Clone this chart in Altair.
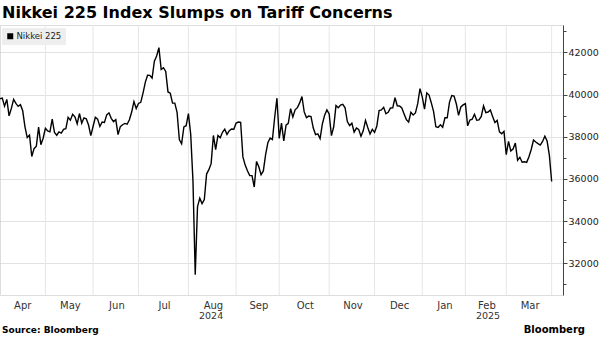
import altair as alt
import pandas as pd

# Trading days (Tokyo) Apr 2024 - Mar 2025 and Nikkei 225 closes
dates = [
    # Apr 2024
    "2024-04-01", "2024-04-02", "2024-04-03", "2024-04-04", "2024-04-05",
    "2024-04-08", "2024-04-09", "2024-04-10", "2024-04-11", "2024-04-12",
    "2024-04-15", "2024-04-16", "2024-04-17", "2024-04-18", "2024-04-19",
    "2024-04-22", "2024-04-23", "2024-04-24", "2024-04-25", "2024-04-26",
    "2024-04-30",
    # May 2024
    "2024-05-01", "2024-05-02", "2024-05-07", "2024-05-08", "2024-05-09",
    "2024-05-10", "2024-05-13", "2024-05-14", "2024-05-15", "2024-05-16",
    "2024-05-17", "2024-05-20", "2024-05-21", "2024-05-22", "2024-05-23",
    "2024-05-24", "2024-05-27", "2024-05-28", "2024-05-29", "2024-05-30",
    "2024-05-31",
    # Jun 2024
    "2024-06-03", "2024-06-04", "2024-06-05", "2024-06-06", "2024-06-07",
    "2024-06-10", "2024-06-11", "2024-06-12", "2024-06-13", "2024-06-14",
    "2024-06-17", "2024-06-18", "2024-06-19", "2024-06-20", "2024-06-21",
    "2024-06-24", "2024-06-25", "2024-06-26", "2024-06-27", "2024-06-28",
    # Jul 2024
    "2024-07-01", "2024-07-02", "2024-07-03", "2024-07-04", "2024-07-05",
    "2024-07-08", "2024-07-09", "2024-07-10", "2024-07-11", "2024-07-12",
    "2024-07-16", "2024-07-17", "2024-07-18", "2024-07-19", "2024-07-22",
    "2024-07-23", "2024-07-24", "2024-07-25", "2024-07-26", "2024-07-29",
    "2024-07-30", "2024-07-31",
    # Aug 2024
    "2024-08-01", "2024-08-02", "2024-08-05", "2024-08-06", "2024-08-07",
    "2024-08-08", "2024-08-09", "2024-08-13", "2024-08-14", "2024-08-15",
    "2024-08-16", "2024-08-19", "2024-08-20", "2024-08-21", "2024-08-22",
    "2024-08-23", "2024-08-26", "2024-08-27", "2024-08-28", "2024-08-29",
    "2024-08-30",
    # Sep 2024
    "2024-09-02", "2024-09-03", "2024-09-04", "2024-09-05", "2024-09-06",
    "2024-09-09", "2024-09-10", "2024-09-11", "2024-09-12", "2024-09-13",
    "2024-09-17", "2024-09-18", "2024-09-19", "2024-09-20", "2024-09-24",
    "2024-09-25", "2024-09-26", "2024-09-27", "2024-09-30",
    # Oct 2024
    "2024-10-01", "2024-10-02", "2024-10-03", "2024-10-04", "2024-10-07",
    "2024-10-08", "2024-10-09", "2024-10-10", "2024-10-11", "2024-10-15",
    "2024-10-16", "2024-10-17", "2024-10-18", "2024-10-21", "2024-10-22",
    "2024-10-23", "2024-10-24", "2024-10-25", "2024-10-28", "2024-10-29",
    "2024-10-30", "2024-10-31",
    # Nov 2024
    "2024-11-01", "2024-11-05", "2024-11-06", "2024-11-07", "2024-11-08",
    "2024-11-11", "2024-11-12", "2024-11-13", "2024-11-14", "2024-11-15",
    "2024-11-18", "2024-11-19", "2024-11-20", "2024-11-21", "2024-11-22",
    "2024-11-25", "2024-11-26", "2024-11-27", "2024-11-28", "2024-11-29",
    # Dec 2024
    "2024-12-02", "2024-12-03", "2024-12-04", "2024-12-05", "2024-12-06",
    "2024-12-09", "2024-12-10", "2024-12-11", "2024-12-12", "2024-12-13",
    "2024-12-16", "2024-12-17", "2024-12-18", "2024-12-19", "2024-12-20",
    "2024-12-23", "2024-12-24", "2024-12-25", "2024-12-26", "2024-12-27",
    "2024-12-30",
    # Jan 2025
    "2025-01-06", "2025-01-07", "2025-01-08", "2025-01-09", "2025-01-10",
    "2025-01-14", "2025-01-15", "2025-01-16", "2025-01-17", "2025-01-20",
    "2025-01-21", "2025-01-22", "2025-01-23", "2025-01-24", "2025-01-27",
    "2025-01-28", "2025-01-29", "2025-01-30", "2025-01-31",
    # Feb 2025
    "2025-02-03", "2025-02-04", "2025-02-05", "2025-02-06", "2025-02-07",
    "2025-02-10", "2025-02-12", "2025-02-13", "2025-02-14", "2025-02-17",
    "2025-02-18", "2025-02-19", "2025-02-20", "2025-02-21", "2025-02-25",
    "2025-02-26", "2025-02-27", "2025-02-28",
    # Mar 2025
    "2025-03-03", "2025-03-04", "2025-03-05", "2025-03-06", "2025-03-07",
    "2025-03-10", "2025-03-11", "2025-03-12", "2025-03-13", "2025-03-14",
    "2025-03-17", "2025-03-18", "2025-03-19", "2025-03-21", "2025-03-24",
    "2025-03-25", "2025-03-26", "2025-03-27", "2025-03-28", "2025-03-31",
]

closes = [
    # Apr 2024
    39803, 39838, 39451, 39773, 38992, 39347, 39773, 39581, 39442, 39523,
    39233, 38471, 37962, 38079, 37068, 37438, 37552, 38460, 37628, 37934,
    38405,
    # May 2024
    38274, 38236, 38835, 38202, 38074, 38229, 38179, 38356, 38386, 38920,
    38787, 39070, 38947, 38618, 39103, 38647, 38900, 38856, 38557, 38054,
    38488,
    # Jun 2024
    38923, 38837, 38490, 38704, 38684, 39038, 39135, 38877, 38721, 38815,
    38102, 38482, 38570, 38634, 38596, 38805, 39174, 39667, 39342, 39583,
    # Jul 2024
    39632, 40074, 40580, 40914, 40912, 40781, 41580, 41831, 42224, 41191,
    41275, 41098, 40126, 40064, 39599, 39594, 39155, 37870, 37668, 38469,
    38526, 39102,
    # Aug 2024
    38126, 35910, 31458, 34675, 35090, 34831, 35025, 36233, 36443, 36727,
    38063, 37389, 38063, 37951, 38212, 38364, 38110, 38289, 38372, 38363,
    38648,
    # Sep 2024
    38700, 38686, 37048, 36658, 36392, 36160, 36159, 35620, 36833, 36582,
    36204, 36380, 37155, 37724, 37940, 37870, 38926, 39830, 37920,
    # Oct 2024
    38652, 37809, 38552, 38636, 39333, 38938, 39278, 39381, 39606, 39911,
    39181, 38911, 38982, 38955, 38412, 38105, 38143, 37914, 38606, 39028,
    39277, 39081,
    # Nov 2024
    38054, 38475, 39481, 39381, 39501, 39534, 39377, 38722, 38536, 38643,
    38221, 38415, 38352, 38026, 38284, 38780, 38443, 38135, 38349, 38208,
    # Dec 2024
    38513, 39249, 39277, 39396, 39091, 39161, 39368, 39373, 39850, 39470,
    39458, 39365, 39082, 38814, 38702, 39161, 39037, 39130, 39568, 40281,
    39895,
    # Jan 2025
    39307, 40083, 39981, 39605, 39190, 38474, 38445, 38573, 38451, 38903,
    38903, 39646, 39959, 39931, 39566, 39016, 39415, 39514, 39572,
    # Feb 2025
    38520, 38798, 38831, 39067, 38787, 38801, 38964, 39462, 39149, 39174,
    39270, 38964, 38678, 38777, 38238, 38142, 38257, 37156,
    # Mar 2025
    37785, 37331, 37418, 37705, 36887, 37028, 36793, 36819, 36790, 37053,
    37397, 37846, 37751, 37677, 37608, 37780, 38027, 37799, 37120, 35880,
]

series_name = "Nikkei 225"
title_text = "Nikkei 225 Index Slumps on Tariff Concerns"
source_text = "Source: Bloomberg"
brand_text = "Bloomberg"
y_ticks = list(range(31000, 43001, 1000))

FONT = "DejaVu Sans"
W, H = 563, 270

df = pd.DataFrame({"date": pd.to_datetime(dates), "close": closes})
df["i"] = range(len(df))
df["series"] = series_name
df["month"] = df["date"].dt.to_period("M")
df["year"] = df["date"].dt.year

mg = df.groupby("month")["i"].agg(["min", "max"]).reset_index()
month_df = pd.DataFrame({
    "i": (mg["min"] + mg["max"]) / 2.0,
    "label": mg["month"].dt.strftime("%b"),
})
grid_df = pd.DataFrame({"i": mg["max"]})
yg = df.groupby("year")["i"].agg(["min", "max"]).reset_index()
year_df = pd.DataFrame({"i": (yg["min"] + yg["max"]) / 2.0, "label": yg["year"].astype(str)})

xscale = alt.Scale(domain=[0, 248], nice=False, zero=False)
yscale = alt.Scale(domain=[30500, 43300], nice=False, zero=False)

grid = alt.Chart(grid_df).mark_rule(color="#e6e6e6", strokeWidth=1).encode(
    x=alt.X("i:Q", scale=xscale, axis=None)
)

line = alt.Chart(df[["i", "close", "series"]]).mark_line(strokeWidth=1.4).encode(
    x=alt.X("i:Q", scale=xscale, axis=None),
    y=alt.Y(
        "close:Q",
        scale=yscale,
        title=None,
        axis=alt.Axis(
            orient="right",
            values=y_ticks,
            format="d",
            labelExpr="datum.value % 2000 === 0 ? datum.label : ''",
            labelFont=FONT,
            labelFontSize=9.5,
            labelColor="#222",
            labelPadding=1,
            domainColor="#444",
            domainWidth=1,
            tickColor="#444",
            tickSize={"condition": {"test": "datum.value % 2000 === 0", "value": 4}, "value": 3},
            grid=True,
            gridColor="#c4c4c4",
            gridDash=[1, 1],
            gridOpacity={"condition": {"test": "datum.value % 2000 === 0", "value": 1}, "value": 0},
        ),
    ),
    color=alt.Color(
        "series:N",
        scale=alt.Scale(domain=[series_name], range=["#000000"]),
        legend=alt.Legend(
            title=None,
            orient="none",
            legendX=2,
            legendY=3,
            symbolType="square",
            symbolSize=36,
            symbolFillColor="#000000",
            symbolStrokeWidth=0,
            labelFont=FONT,
            labelFontSize=8.5,
            labelColor="#222",
            labelOffset=2,
            fillColor="#eeeeee",
            padding=4,
        ),
    ),
)

months = alt.Chart(month_df).mark_text(
    font=FONT, fontSize=10, color="#333", baseline="alphabetic", align="center"
).encode(x=alt.X("i:Q", scale=xscale, axis=None), y=alt.value(H + 14), text="label:N")

years = alt.Chart(year_df).mark_text(
    font=FONT, fontSize=9.5, color="#333", baseline="alphabetic", align="center"
).encode(x=alt.X("i:Q", scale=xscale, axis=None), y=alt.value(H + 24), text="label:N")

notes = pd.DataFrame({"label": [source_text]})
source = alt.Chart(notes).mark_text(
    font=FONT, fontSize=9, fontWeight="bold", color="#000", baseline="alphabetic", align="left"
).encode(x=alt.value(2), y=alt.value(H + 38), text="label:N")

brand_df = pd.DataFrame({"label": [brand_text]})
brand = alt.Chart(brand_df).mark_text(
    font=FONT, fontSize=10, fontWeight="bold", color="#000", baseline="alphabetic", align="right"
).encode(x=alt.value(585), y=alt.value(H + 38), text="label:N")

chart = alt.layer(grid, line, months, years, source, brand).properties(
    width=W,
    height=H,
    autosize=alt.AutoSizeParams(type="none"),
    padding={"left": 0, "top": 25, "right": 37, "bottom": 42},
    title=alt.TitleParams(
        text=title_text,
        anchor="start",
        frame="group",
        font=FONT,
        fontSize=16,
        fontWeight="bold",
        color="#000",
        baseline="alphabetic",
        offset=6,
        dx=2,
        dy=15,
    ),
).configure_view(stroke=None).configure(background="white")

chart.save("out.html", embed_options={"renderer": "svg", "actions": False})
